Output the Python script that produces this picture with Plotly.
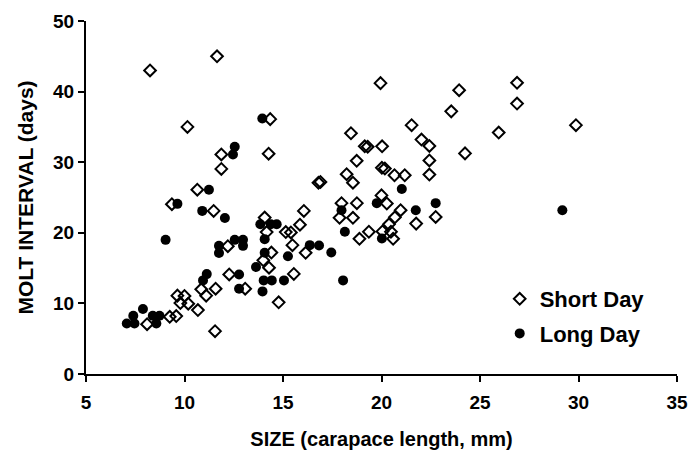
import plotly.graph_objects as go

# Short Day (open diamonds)
short_x = [8.25, 11.65, 10.15, 14.35, 11.87, 11.87, 14.27, 10.65, 9.36, 11.48,
           14.07, 14.17, 15.14, 15.4, 12.2, 14.41, 14.0, 14.29, 10.85, 11.1,
           11.58, 12.27, 13.08, 14.78, 9.64, 10.0, 9.79, 10.19, 10.68, 9.25,
           9.58, 11.55, 8.1,
           19.95, 23.94, 23.54, 18.45, 21.53, 25.95, 19.15, 19.3, 20.03, 22.03,
           22.43, 24.24, 18.74, 22.43, 20.02, 20.17, 18.23, 20.66, 21.18, 22.43,
           18.55, 16.8, 16.9, 20.0, 17.97, 18.75, 20.27, 17.87, 18.55, 20.97,
           20.68, 20.38, 21.76, 22.75, 16.06, 15.86, 19.36, 20.05, 20.48, 18.88,
           20.59, 15.48, 16.15, 15.55,
           26.88, 26.88, 29.87]
short_y = [43.0, 45.0, 35.0, 36.1, 31.1, 29.05, 31.2, 26.1, 24.05, 23.1,
           22.15, 20.1, 20.1, 20.05, 18.1, 17.2, 16.1, 15.06, 12.0, 11.1,
           12.08, 14.1, 12.08, 10.15, 11.1, 11.05, 10.05, 9.96, 9.05, 8.1,
           8.2, 6.07, 7.05,
           41.2, 40.2, 37.2, 34.1, 35.25, 34.2, 32.25, 32.2, 32.25, 33.2,
           32.3, 31.25, 30.2, 30.25, 29.2, 29.1, 28.3, 28.15, 28.15, 28.25,
           27.1, 27.1, 27.2, 25.3, 24.2, 24.2, 24.15, 22.12, 22.12, 23.2,
           22.2, 21.2, 21.3, 22.25, 23.1, 21.15, 20.15, 20.2, 20.15, 19.15,
           19.15, 18.25, 17.17, 14.18,
           41.25, 38.3, 35.25]

# Long Day (filled circles)
long_x = [13.95, 12.55, 12.46, 11.24, 9.64, 10.9, 12.05, 13.85, 14.38, 14.68,
          9.04, 11.75, 11.75, 12.55, 12.97, 12.97, 14.07, 14.07, 15.25, 13.63,
          11.13, 10.94, 12.77, 12.77, 14.02, 14.43, 15.05, 13.96,
          7.89, 7.4, 7.07, 7.46, 8.39, 8.73, 8.57,
          21.03, 19.76, 17.97, 18.14, 20.02, 21.74, 22.75, 16.36, 16.83, 17.45,
          18.05, 29.18]
long_y = [36.2, 32.2, 31.1, 26.1, 24.1, 23.1, 22.1, 21.2, 21.2, 21.2,
          19.0, 18.15, 17.15, 19.0, 19.0, 18.15, 19.1, 17.17, 16.67, 15.15,
          14.15, 13.26, 14.1, 12.08, 13.26, 13.26, 13.26, 11.7,
          9.2, 8.25, 7.15, 7.15, 8.25, 8.25, 7.15,
          26.2, 24.2, 23.2, 20.15, 19.2, 23.2, 24.2, 18.25, 18.2, 17.2,
          13.26, 23.2]

x_ticks = [5, 10, 15, 20, 25, 30, 35]
y_ticks = [0, 10, 20, 30, 40, 50]

FONT = "Liberation Sans"

fig = go.Figure()
fig.add_trace(go.Scatter(
    x=short_x, y=short_y, mode="markers", name="<b>Short Day</b>", legendgroup="s",
    marker=dict(symbol="diamond-open", size=9, color="black",
                line=dict(width=2, color="black")),
))
fig.add_trace(go.Scatter(
    x=long_x, y=long_y, mode="markers", name="<b>Long Day</b>", legendgroup="l",
    marker=dict(symbol="circle", size=10, color="black",
                line=dict(width=0)),
))

fig.update_layout(
    width=690, height=456,
    margin=dict(l=86, r=13, t=21, b=82, autoexpand=False),
    paper_bgcolor="white", plot_bgcolor="white",
    font=dict(family=FONT, color="black", size=20),
    showlegend=True,
    legend=dict(
        x=0.70, y=0.272, xanchor="left", yanchor="top",
        bgcolor="rgba(0,0,0,0)",
        font=dict(family=FONT, size=22, color="black"),
        tracegroupgap=3, itemsizing="trace",
    ),
    xaxis=dict(
        range=[5, 35], tickvals=x_ticks,
        ticktext=["<b>%d</b>" % v for v in x_ticks],
        showgrid=False, zeroline=False,
        showline=True, linecolor="black", linewidth=2,
        ticks="outside", ticklen=6, tickwidth=2, tickcolor="black",
        tickfont=dict(family=FONT, size=19, color="black"),
        ticklabelstandoff=4, ticklabeloverflow="allow",
        automargin=False,
        title=dict(text="<b>SIZE (carapace length, mm)</b>",
                   font=dict(family=FONT, size=20, color="black"),
                   standoff=20),
    ),
    yaxis=dict(
        range=[0, 50], tickvals=y_ticks,
        ticktext=["<b>%d</b>" % v for v in y_ticks],
        showgrid=False, zeroline=False,
        showline=True, linecolor="black", linewidth=2,
        ticks="outside", ticklen=6, tickwidth=2, tickcolor="black",
        tickfont=dict(family=FONT, size=19, color="black"),
        ticklabeloverflow="allow",
        automargin=False,
        title=dict(text="<b>MOLT INTERVAL (days)</b>",
                   font=dict(family=FONT, size=21, color="black"),
                   standoff=14),
    ),
)

fig.write_html(
    "out.html",
    config={"displayModeBar": False},
    post_script="document.body.style.margin='0';document.body.style.overflow='hidden';",
)
